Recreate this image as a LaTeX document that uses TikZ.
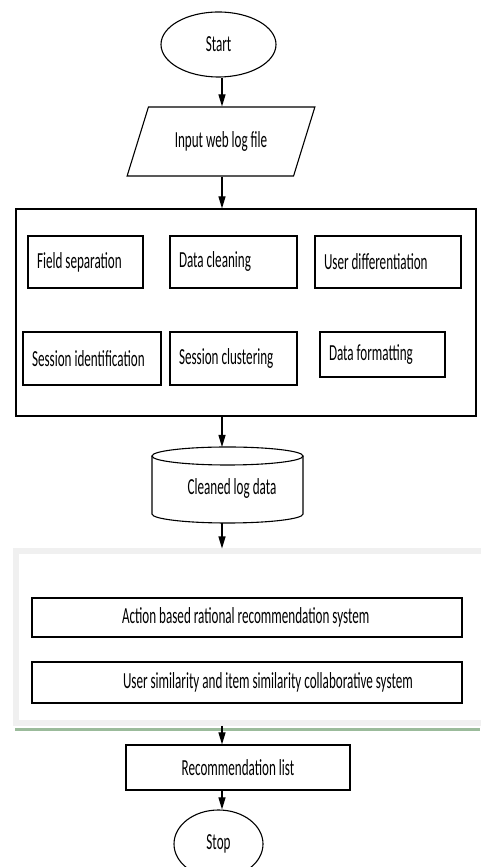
\documentclass[tikz,border=0pt]{standalone}
\usepackage{fontspec}
\setmainfont{Carlito}[FakeStretch=0.57]
\usetikzlibrary{arrows.meta,shapes.geometric}
\definecolor{band}{RGB}{240,240,240}
\definecolor{gline}{RGB}{155,187,155}
\begin{document}
\begin{tikzpicture}[x=1pt,y=1pt,
  every node/.style={font=\fontsize{23}{26}\selectfont},
  ln/.style={line width=1.1pt},
  arr/.style={ln,-{Triangle[length=12pt,width=7pt]}},
  box/.style={draw,ln,rectangle,inner ysep=0pt},
  lbox/.style={box,inner xsep=9pt},
  term/.style={draw,ln,ellipse,inner sep=0pt}
]
\useasboundingbox (0,0) rectangle (480,867);
\coordinate (spine) at (222,0);

% Start
\node[term,minimum width=115pt,minimum height=65pt] (start) at (218.5,822.5) {Start};

% Input
\node[draw,ln,trapezium,trapezium left angle=55.7,trapezium right angle=124.3,
  trapezium stretches=true,minimum width=188pt,minimum height=69pt,inner sep=0pt]
  (input) at (221,725.5) {Input web log file};

% Preprocessing frame
\node[box,minimum width=460pt,minimum height=207pt] (prep) at (246,554.5) {};
\node[lbox,minimum height=52pt] (fs) at (85.5,605) {\makebox[97pt][l]{Field separation}};
\node[lbox,minimum height=52pt] (dc) at (233.5,605) {\makebox[109pt][l]{Data cleaning}};
\node[lbox,minimum height=52pt] (ud) at (388,605) {\makebox[128pt][l]{User differentiation}};
\node[lbox,minimum height=53pt] (si) at (92,508.5) {\makebox[120pt][l]{Session identification}};
\node[lbox,minimum height=53pt] (sc) at (233.5,508.5) {\makebox[109pt][l]{Session clustering}};
\node[lbox,minimum height=45pt] (df) at (382.5,512.5) {\makebox[107pt][l]{Data formatting}};

% Database cylinder
\coordinate (dbtop) at (227.5,420);
\coordinate (dbbot) at (227.5,344);
\draw[ln] (152,411) -- (152,353) arc[start angle=180,end angle=360,x radius=75.5pt,y radius=9pt] -- (303,411);
\draw[ln] (227.5,411) ellipse [x radius=75.5pt,y radius=9pt];
\node (db) at (232,379) {Cleaned log data};

% Recommendation frame
\node[draw=band,line width=6pt,minimum width=540pt,minimum height=171.5pt,inner sep=0pt] (frame) at (286,229.75) {};
\draw[gline,line width=3.5pt] (15,137.5) -- (480,137.5);
\node[box,inner xsep=0pt,minimum height=39pt] (abr) at (247,249.5) {\makebox[430pt][l]{\hspace*{90pt}Action based rational recommendation system}};
\node[box,inner xsep=0pt,minimum height=41pt] (usim) at (247,184.5) {\makebox[430pt][l]{\hspace*{91pt}User similarity and item similarity collaborative system}};

% Recommendation list and stop
\node[box,minimum width=224pt,minimum height=45pt] (rec) at (238,99.5) {Recommendation list};
\node[term,minimum width=89pt,minimum height=68pt] (stop) at (218.5,23) {Stop};

% Connectors
\draw[arr] (start.south -| spine) -- (input.north -| spine);
\draw[arr] (input.south -| spine) -- (prep.north -| spine);
\draw[arr] (prep.south -| spine) -- (dbtop -| spine);
\draw[arr] (dbbot -| spine) -- (frame.north -| spine);
\draw[arr] (frame.south -| spine) -- (rec.north -| spine);
\draw[arr] (rec.south -| spine) -- (stop.north -| spine);
\end{tikzpicture}
\end{document}
